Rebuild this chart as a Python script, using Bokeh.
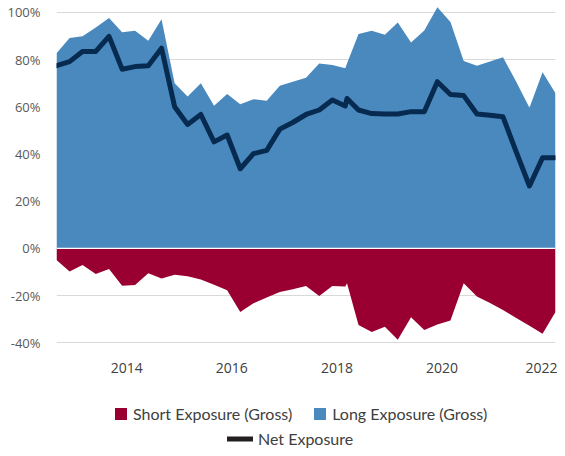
import pandas as pd
from bokeh.plotting import figure
from bokeh.layouts import column
from bokeh.models import (ColumnDataSource, FixedTicker, PrintfTickFormatter,
                          DatetimeTickFormatter, Legend, LegendItem, Span, Range1d)
from bokeh.embed import file_html
from bokeh.resources import INLINE

# ---------------- data ----------------
dates = [
    "2012-08-31", "2012-11-30", "2013-02-28", "2013-05-31", "2013-08-31",
    "2013-11-30", "2014-02-28", "2014-05-31", "2014-08-31", "2014-11-30",
    "2015-02-28", "2015-05-31", "2015-08-31", "2015-11-30", "2016-02-29",
    "2016-05-31", "2016-08-31", "2016-11-30", "2017-02-28", "2017-05-31",
    "2017-08-31", "2017-11-30", "2018-02-28", "2018-03-12", "2018-05-31",
    "2018-08-31", "2018-11-30", "2019-02-28", "2019-05-31", "2019-08-31",
    "2019-11-30", "2020-02-29", "2020-05-31", "2020-08-31", "2020-11-30",
    "2021-02-28", "2021-05-31", "2021-08-31", "2021-11-30", "2022-02-28",
]
long_gross = [
    82.7, 89.1, 89.8, 93.6, 97.6, 91.5, 92.2, 87.9, 97.1, 69.9,
    64.3, 69.9, 60.4, 65.4, 61.0, 63.2, 62.5, 68.9, 70.6, 72.3,
    78.3, 77.7, 76.3, 78.3, 90.8, 92.2, 90.5, 95.7, 87.2, 92.3,
    102.1, 95.9, 79.4, 77.4, 79.1, 81.0, 70.6, 59.6, 74.6, 65.7,
]
short_gross = [
    -5.0, -9.8, -7.1, -10.9, -8.8, -15.9, -15.5, -10.6, -12.8, -11.2,
    -11.8, -13.2, -15.4, -17.8, -27.0, -23.3, -20.9, -18.5, -17.3, -16.0,
    -20.2, -16.0, -16.2, -14.8, -32.5, -35.5, -33.2, -38.7, -29.2, -34.6,
    -32.3, -30.6, -14.8, -20.4, -23.2, -26.1, -29.5, -32.8, -36.2, -27.0,
]
net_exposure = [
    77.4, 79.1, 83.4, 83.4, 89.8, 75.9, 77.0, 77.4, 84.8, 60.0,
    52.5, 56.7, 45.1, 48.0, 33.7, 40.1, 41.5, 50.5, 53.3, 56.7,
    58.6, 62.8, 60.3, 63.5, 58.6, 57.1, 56.9, 56.9, 57.9, 57.9,
    70.6, 65.2, 64.7, 56.9, 56.4, 55.7, 40.9, 26.4, 38.4, 38.4,
]
x_tick_years = [2014, 2016, 2018, 2020, 2022]
y_ticks = [-40, -20, 0, 20, 40, 60, 80, 100]

short_label = "Short Exposure (Gross)"
long_label = "Long Exposure (Gross)"
net_label = "Net Exposure"

# ---------------- styling ----------------
BLUE = "#4a89be"
RED = "#990031"
NAVY = "#072a50"
SWATCH_LINE = "#231f20"
GRID = "#d9d9d9"
W = 557
NAN = float("nan")

df = pd.DataFrame(dict(date=pd.to_datetime(dates), long=long_gross,
                       short=short_gross, net=net_exposure))
src = ColumnDataSource(df)

p = figure(width=W, height=382, x_axis_type="datetime",
           output_backend="svg", toolbar_location=None,
           x_range=Range1d(df["date"].min(), df["date"].max()),
           y_range=Range1d(-45, 105),
           min_border_left=56, min_border_right=2, min_border_top=0,
           min_border_bottom=28)
p.outline_line_color = None
p.background_fill_color = "white"
p.border_fill_color = "white"

p.varea(x="date", y1=0, y2="long", source=src, fill_color=BLUE)
p.varea(x="date", y1=0, y2="short", source=src, fill_color=RED)
p.add_layout(Span(location=0, dimension="width", line_color="white", line_width=1.2))
p.line(x="date", y="net", source=src, line_color=NAVY, line_width=5,
       line_join="round", line_cap="round")

# axes
p.yaxis.ticker = FixedTicker(ticks=y_ticks)
p.yaxis.formatter = PrintfTickFormatter(format="%d%%")
p.xaxis.ticker = FixedTicker(ticks=[pd.Timestamp(f"{y}-01-01").value / 1e6 for y in x_tick_years])
p.xaxis.formatter = DatetimeTickFormatter(years="%Y", months="%Y", days="%Y",
                                          hours="%Y", hourmin="%Y", minutes="%Y")
for ax in (p.xaxis, p.yaxis):
    ax.axis_line_color = None
    ax.major_tick_line_color = None
    ax.minor_tick_line_color = None
    ax.major_tick_out = 0
    ax.major_tick_in = 0
    ax.minor_tick_out = 0
    ax.major_label_text_font = "Open Sans"
p.yaxis.major_label_text_font_size = "13px"
p.yaxis.major_label_text_color = "#595959"
p.yaxis.major_label_standoff = 16
p.xaxis.major_label_text_font_size = "14px"
p.xaxis.major_label_text_color = "#404040"
p.xaxis.major_label_standoff = 8

p.ygrid.ticker = FixedTicker(ticks=y_ticks)
p.ygrid.grid_line_color = GRID
p.xgrid.grid_line_color = None

# ---------------- legend strip (separate figure below the chart) ----------------
q = figure(width=W, height=66, output_backend="svg", toolbar_location=None,
           x_range=Range1d(0, 1), y_range=Range1d(0, 1),
           x_axis_location=None, y_axis_location=None,
           min_border=0, outline_line_color=None)
q.grid.visible = False
# legend-only stand-ins (a single empty NaN entry, nothing drawn in the strip)
d_short = q.varea(x=[NAN], y1=[NAN], y2=[NAN], fill_color=RED)
d_long = q.varea(x=[NAN], y1=[NAN], y2=[NAN], fill_color=BLUE)
d_net = q.line(x=[NAN], y=[NAN], line_color=SWATCH_LINE, line_width=5, line_cap="round")

common = dict(border_line_color=None, background_fill_alpha=0, padding=0, margin=0,
              label_text_font="Lato", label_text_font_size="16px",
              label_text_color="#404040", label_standoff=5, label_height=19,
              glyph_height=15, orientation="horizontal")
leg1 = Legend(items=[LegendItem(label=short_label, renderers=[d_short]),
                     LegendItem(label=long_label, renderers=[d_long])],
              location=(57, 25), glyph_width=15, spacing=20, **common)
leg2 = Legend(items=[LegendItem(label=net_label, renderers=[d_net])],
              location=(171, 0), glyph_width=26, **common)
q.add_layout(leg1)
q.add_layout(leg2)

layout = column(p, q, spacing=0)
open("out.html", "w").write(file_html(layout, INLINE))
